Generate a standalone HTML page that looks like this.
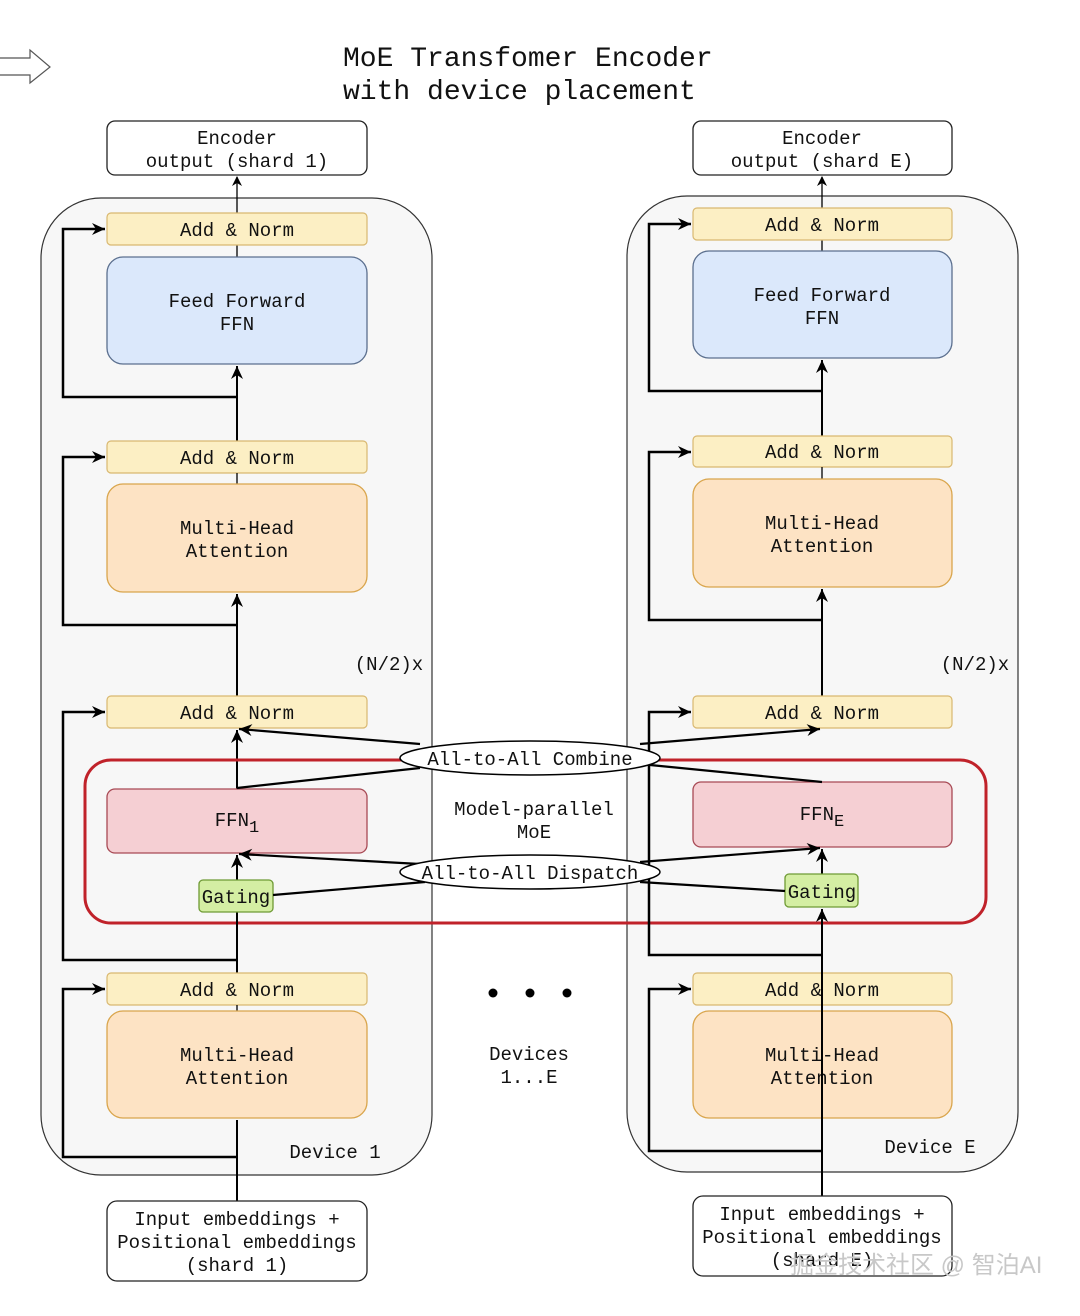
<!DOCTYPE html>
<html><head><meta charset="utf-8"><style>
body{margin:0;background:#fff}
svg text{font-family:"Liberation Mono",monospace;fill:#111}
</style></head><body>
<svg width="1080" height="1311" viewBox="0 0 1080 1311" xmlns="http://www.w3.org/2000/svg">
<defs>
<marker id="a" markerWidth="10" markerHeight="10" refX="9" refY="5" orient="auto" markerUnits="userSpaceOnUse"><path d="M0,0 L10,5 L0,10 L3,5 z" fill="#000"/></marker>
<marker id="s" markerWidth="14" markerHeight="14" refX="13" refY="7" orient="auto" markerUnits="userSpaceOnUse"><path d="M0,1 L13,7 L0,13 L4,7 z" fill="#000"/></marker>
</defs>
<rect width="1080" height="1311" fill="#fff"/>
<!-- hollow arrow -->
<path d="M0,58 H30 V50 L50,67 L30,83 V75 H0" fill="#fff" stroke="#555" stroke-width="1.2"/>
<text x="343" y="66" font-size="28">MoE Transfomer Encoder</text>
<text x="343" y="99" font-size="28">with device placement</text>

<!-- containers -->
<rect x="41" y="198" width="391" height="977" rx="60" fill="#f7f7f7" stroke="#333" stroke-width="1.2"/>
<rect x="627" y="196" width="391" height="976" rx="60" fill="#f7f7f7" stroke="#333" stroke-width="1.2"/>

<g font-size="19" text-anchor="middle">
<!-- LEFT -->
<rect x="107" y="121" width="260" height="54" rx="8" fill="#fff" stroke="#222" stroke-width="1.3"/>
<text x="237" y="144">Encoder</text><text x="237" y="167">output (shard 1)</text>
<line x1="237" y1="213" x2="237" y2="177" stroke="#000" stroke-width="1.3" marker-end="url(#a)"/>
<line x1="237" y1="245" x2="237" y2="257" stroke="#000" stroke-width="1.3"/>
<rect x="107" y="213" width="260" height="32" rx="4" fill="#fcefc4" stroke="#d9b870" stroke-width="1.2"/>
<text x="237" y="236">Add &amp; Norm</text>
<rect x="107" y="257" width="260" height="107" rx="16" fill="#dbe8fb" stroke="#5b6f8e" stroke-width="1.3"/>
<text x="237" y="307">Feed Forward</text><text x="237" y="330">FFN</text>
<line x1="237" y1="441" x2="237" y2="366" stroke="#000" stroke-width="2" marker-end="url(#s)"/>
<path d="M237,397 H63 V229 H105" fill="none" stroke="#000" stroke-width="2.5" marker-end="url(#s)"/>

<rect x="107" y="441" width="260" height="32" rx="4" fill="#fcefc4" stroke="#d9b870" stroke-width="1.2"/>
<text x="237" y="464">Add &amp; Norm</text>
<line x1="237" y1="473" x2="237" y2="484" stroke="#000" stroke-width="1.3"/>
<rect x="107" y="484" width="260" height="108" rx="16" fill="#fde3c4" stroke="#d9a54c" stroke-width="1.3"/>
<text x="237" y="534">Multi-Head</text><text x="237" y="557">Attention</text>
<line x1="237" y1="696" x2="237" y2="594" stroke="#000" stroke-width="2" marker-end="url(#s)"/>
<path d="M237,625 H63 V457 H105" fill="none" stroke="#000" stroke-width="2.5" marker-end="url(#s)"/>
<text x="389" y="670">(N/2)x</text>

<rect x="107" y="696" width="260" height="32" rx="4" fill="#fcefc4" stroke="#d9b870" stroke-width="1.2"/>
<text x="237" y="719">Add &amp; Norm</text>
<line x1="237" y1="789" x2="237" y2="730" stroke="#000" stroke-width="2" marker-end="url(#s)"/>
<path d="M237,960 H63 V712 H105" fill="none" stroke="#000" stroke-width="2.5" marker-end="url(#s)"/>

<!-- red box -->
<rect x="85" y="760" width="901" height="163" rx="26" fill="none" stroke="#c0222a" stroke-width="3"/>
<rect x="107" y="789" width="260" height="64" rx="8" fill="#f5cfd3" stroke="#a84a55" stroke-width="1.3"/>
<text x="237" y="826">FFN<tspan font-size="17" dy="6">1</tspan></text>
<line x1="237" y1="880" x2="237" y2="855" stroke="#000" stroke-width="2" marker-end="url(#s)"/>
<line x1="237" y1="973" x2="237" y2="912" stroke="#000" stroke-width="2"/>
<rect x="199" y="880" width="74" height="32" rx="4" fill="#d4eea3" stroke="#6e9a34" stroke-width="1.3"/>
<text x="236" y="903">Gating</text>

<rect x="107" y="973" width="260" height="32" rx="4" fill="#fcefc4" stroke="#d9b870" stroke-width="1.2"/>
<text x="237" y="996">Add &amp; Norm</text>
<line x1="237" y1="1005" x2="237" y2="1011" stroke="#000" stroke-width="1.3"/>
<rect x="107" y="1011" width="260" height="107" rx="16" fill="#fde3c4" stroke="#d9a54c" stroke-width="1.3"/>
<text x="237" y="1061">Multi-Head</text><text x="237" y="1084">Attention</text>
<line x1="237" y1="1201" x2="237" y2="1120" stroke="#000" stroke-width="2"/>
<path d="M237,1157 H63 V989 H105" fill="none" stroke="#000" stroke-width="2.5" marker-end="url(#s)"/>
<text x="335" y="1158">Device 1</text>
<rect x="107" y="1201" width="260" height="80" rx="10" fill="#fff" stroke="#222" stroke-width="1.3"/>
<text x="237" y="1225">Input embeddings +</text><text x="237" y="1248">Positional embeddings</text><text x="237" y="1271">(shard 1)</text>

<!-- RIGHT -->
<rect x="693" y="121" width="259" height="54" rx="8" fill="#fff" stroke="#222" stroke-width="1.3"/>
<text x="822" y="144">Encoder</text><text x="822" y="167">output (shard E)</text>
<line x1="822" y1="208" x2="822" y2="177" stroke="#000" stroke-width="1.3" marker-end="url(#a)"/>
<line x1="822" y1="240" x2="822" y2="251" stroke="#000" stroke-width="1.3"/>
<rect x="693" y="208" width="259" height="32" rx="4" fill="#fcefc4" stroke="#d9b870" stroke-width="1.2"/>
<text x="822" y="231">Add &amp; Norm</text>
<rect x="693" y="251" width="259" height="107" rx="16" fill="#dbe8fb" stroke="#5b6f8e" stroke-width="1.3"/>
<text x="822" y="301">Feed Forward</text><text x="822" y="324">FFN</text>
<line x1="822" y1="436" x2="822" y2="360" stroke="#000" stroke-width="2" marker-end="url(#s)"/>
<path d="M822,391 H649 V224 H691" fill="none" stroke="#000" stroke-width="2.5" marker-end="url(#s)"/>

<rect x="693" y="436" width="259" height="31" rx="4" fill="#fcefc4" stroke="#d9b870" stroke-width="1.2"/>
<text x="822" y="458">Add &amp; Norm</text>
<line x1="822" y1="467" x2="822" y2="479" stroke="#000" stroke-width="1.3"/>
<rect x="693" y="479" width="259" height="108" rx="16" fill="#fde3c4" stroke="#d9a54c" stroke-width="1.3"/>
<text x="822" y="529">Multi-Head</text><text x="822" y="552">Attention</text>
<line x1="822" y1="696" x2="822" y2="589" stroke="#000" stroke-width="2" marker-end="url(#s)"/>
<path d="M822,620 H649 V452 H691" fill="none" stroke="#000" stroke-width="2.5" marker-end="url(#s)"/>
<text x="975" y="670">(N/2)x</text>

<rect x="693" y="696" width="259" height="32" rx="4" fill="#fcefc4" stroke="#d9b870" stroke-width="1.2"/>
<text x="822" y="719">Add &amp; Norm</text>
<path d="M822,955 H649 V712 H691" fill="none" stroke="#000" stroke-width="2.5" marker-end="url(#s)"/>

<rect x="693" y="782" width="259" height="65" rx="8" fill="#f5cfd3" stroke="#a84a55" stroke-width="1.3"/>
<text x="822" y="820">FFN<tspan font-size="17" dy="6">E</tspan></text>
<line x1="822" y1="874" x2="822" y2="849" stroke="#000" stroke-width="2" marker-end="url(#s)"/>
<rect x="785" y="874" width="73" height="33" rx="4" fill="#d4eea3" stroke="#6e9a34" stroke-width="1.3"/>
<text x="822" y="898">Gating</text>

<rect x="693" y="973" width="259" height="32" rx="4" fill="#fcefc4" stroke="#d9b870" stroke-width="1.2"/>
<text x="822" y="996">Add &amp; Norm</text>
<rect x="693" y="1011" width="259" height="107" rx="16" fill="#fde3c4" stroke="#d9a54c" stroke-width="1.3"/>
<text x="822" y="1061">Multi-Head</text><text x="822" y="1084">Attention</text>
<line x1="822" y1="1196" x2="822" y2="909" stroke="#000" stroke-width="2" marker-end="url(#s)"/>
<path d="M822,1151 H649 V989 H691" fill="none" stroke="#000" stroke-width="2.5" marker-end="url(#s)"/>
<text x="930" y="1153">Device E</text>
<rect x="693" y="1196" width="259" height="80" rx="10" fill="#fff" stroke="#222" stroke-width="1.3"/>
<text x="822" y="1220">Input embeddings +</text><text x="822" y="1243">Positional embeddings</text><text x="822" y="1266">(shard E)</text>

<!-- cross connectors -->
<line x1="420" y1="744" x2="239" y2="729" stroke="#000" stroke-width="2.2" marker-end="url(#s)"/>
<line x1="640" y1="744" x2="820" y2="729" stroke="#000" stroke-width="2.2" marker-end="url(#s)"/>
<path d="M237,788 L420,768" fill="none" stroke="#000" stroke-width="2.2"/>
<path d="M822,782 L640,764" fill="none" stroke="#000" stroke-width="2.2"/>
<line x1="420" y1="864" x2="239" y2="854" stroke="#000" stroke-width="2.2" marker-end="url(#s)"/>
<line x1="640" y1="862" x2="820" y2="848" stroke="#000" stroke-width="2.2" marker-end="url(#s)"/>
<line x1="273" y1="895" x2="425" y2="882" stroke="#000" stroke-width="2.2"/>
<line x1="785" y1="891" x2="640" y2="882" stroke="#000" stroke-width="2.2"/>

<ellipse cx="530" cy="758" rx="130" ry="17" fill="#fff" stroke="#000" stroke-width="1.5"/>
<text x="530" y="765">All-to-All Combine</text>
<ellipse cx="530" cy="872" rx="130" ry="17" fill="#fff" stroke="#000" stroke-width="1.5"/>
<text x="530" y="879">All-to-All Dispatch</text>
<text x="534" y="815">Model-parallel</text><text x="534" y="838">MoE</text>

<circle cx="493" cy="993" r="4.5" fill="#000"/><circle cx="530" cy="993" r="4.5" fill="#000"/><circle cx="567" cy="993" r="4.5" fill="#000"/>
<text x="529" y="1060">Devices</text><text x="529" y="1083">1...E</text>
</g>
<text x="790" y="1273" font-size="24" fill="#bbb" style="font-family:'Liberation Sans','Noto Sans CJK SC',sans-serif;fill:#c8c8c8">掘金技术社区 @ 智泊AI</text>
</svg>
</body></html>
